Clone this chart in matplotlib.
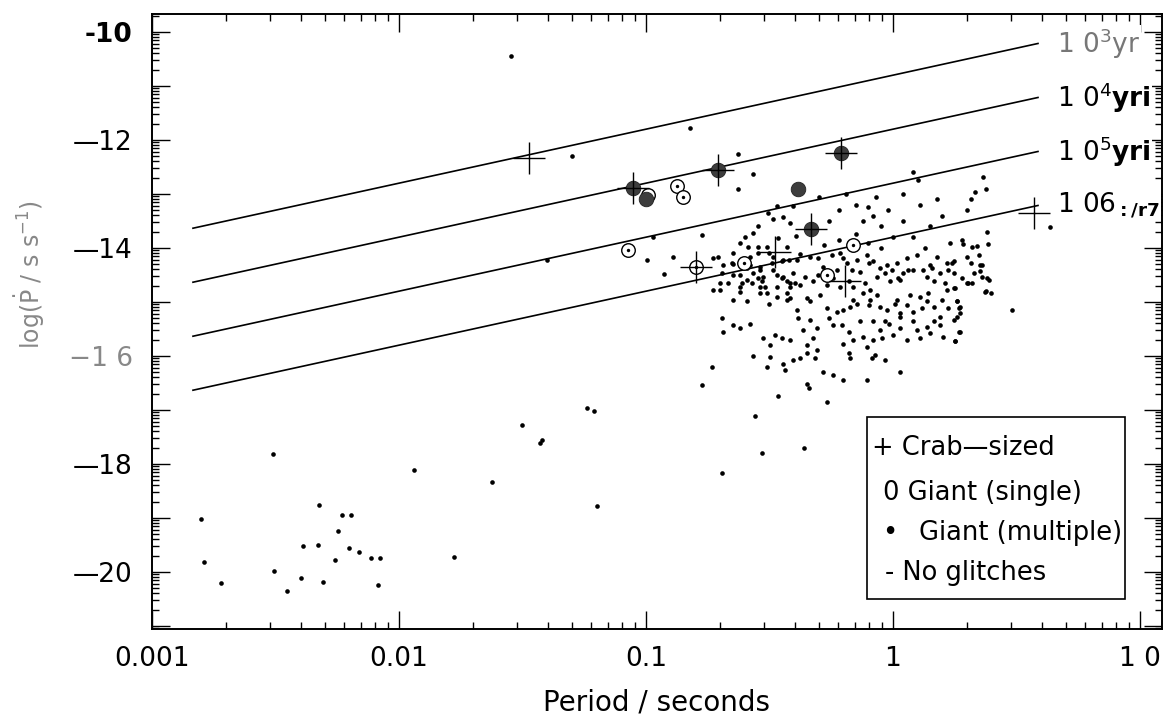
import numpy as np
import matplotlib.pyplot as plt
from matplotlib.patches import Rectangle
from matplotlib.ticker import FixedLocator, LogLocator, NullFormatter

# log10(P / s) and log10(Pdot)
dot_logp = [
    -2.802, -2.79, -2.72, -2.51, -2.506, -2.453, -2.397, -2.389, -2.324, -2.328,
    -2.308, -2.259, -2.247, -2.231, -2.194, -2.202, -2.162, -2.113, -2.077, -2.085,
    -1.939, -1.777, -1.623, -1.30, -0.822, -0.628, -0.567, -0.628, -1.40, -0.972,
    -0.996, -0.89, -0.927, -0.773, 0.636,
    -1.547, -1.50, -1.43, -1.42, -1.24, -1.21, -1.20,
    -0.727, -0.707, -0.646, -0.545, -0.491, -0.423, -0.376, -0.336, -0.248, -0.214,
    -0.147, -0.106, -0.079, -0.025, 0.015, 0.056, 0.096, 0.150, 0.177, 0.218,
    0.245, 0.299, 0.353, 0.380, 0.319,
    -0.700, -0.666, -0.612, -0.572, -0.545, -0.531, -0.518, -0.471, -0.450, -0.430,
    -0.417, -0.376, -0.356, -0.322, -0.302, -0.268, -0.241, -0.214, -0.180, -0.160,
    -0.133, -0.113, -0.093, -0.066, -0.032, -0.012, 0.029, 0.042, 0.083, 0.137,
    0.164, 0.191, 0.224, 0.251, 0.299, 0.373,
    -0.646, -0.592, -0.538, -0.504, -0.471, -0.430, -0.390, -0.349, -0.295, -0.268,
    -0.228, -0.201, -0.174, -0.147, -0.120, -0.093, -0.066, -0.025, 0.008, 0.029,
    0.056, 0.083, 0.110, 0.137, 0.164, 0.191, 0.218, 0.258, 0.272,
    -0.693, -0.687, -0.646, -0.619, -0.579, -0.525, -0.498, -0.477, -0.450, -0.417,
    -0.383, -0.363, -0.349, -0.322, -0.261, -0.207, -0.180, -0.133, -0.120, -0.079,
    -0.045, -0.032, 0.002, 0.029, 0.056, 0.083, 0.110, 0.137, 0.164, 0.191,
    0.251, 0.272,
    -0.565, -0.498, -0.511, -0.444, -0.437, -0.403, -0.376, -0.349, -0.315, -0.309,
    -0.282, -0.241, -0.201, -0.180, -0.174, -0.106, -0.086, -0.072, 0.029, -0.734,
    -0.774,
    -0.464, -0.349, -0.342, -0.268, -0.558, -0.531, -0.360, -0.693,
    0.363, 0.332, 0.314, 0.375, 0.379, 0.278, 0.285, 0.318, 0.341, 0.383,
    0.238, 0.314, 0.350, 0.362, 0.352, 0.359, 0.305, 0.390, 0.375, 0.397,
    0.247, 0.258, 0.269, 0.258, 0.269, 0.251, 0.480,
    -0.468, -0.403, -0.505, -0.484, -0.545, -0.599, -0.619, -0.586, -0.545, -0.511,
    -0.464, -0.430, -0.393, -0.653, -0.700, -0.646, -0.592, -0.565, -0.525, -0.484,
    -0.444, -0.417, -0.390, -0.538, -0.727, -0.619, -0.511, -0.430,
    -0.26, -0.22, -0.19, -0.15, -0.12, -0.10, -0.07, -0.05, -0.02, 0.00,
    -0.15, -0.22, -0.10, -0.05, 0.04, 0.08, 0.10, 0.11, 0.15, 0.18,
    0.20, 0.04, 0.08, 0.13, 0.23, 0.30, -0.30, -0.33, -0.28, -0.08,
    -0.417, -0.336, -0.302, -0.187, -0.167, -0.201, -0.099, -0.052, -0.005, 0.022,
    0.062, 0.123, 0.157, 0.211, 0.245, 0.278, 0.326, -0.396, -0.450, -0.538,
    -0.619, -0.579, -0.687, -0.471, -0.504, -0.282, -0.228, -0.160, -0.099, -0.052,
    0.015, 0.069, 0.116, 0.143, 0.197, 0.224, 0.245, 0.272, -0.336, -0.309,
    -0.241, -0.160, -0.106, -0.052, -0.018, 0.029, 0.096, 0.150, 0.204, -0.201,
    -0.079, -0.032, -0.444, -0.417, -0.565, -0.646, -0.579, -0.484, -0.444, -0.403,
    -0.592, -0.694, -0.619, -0.538,
]
dot_logpdot = [
    -19.02, -19.81, -20.20, -17.81, -19.98, -20.35, -20.11, -19.52, -18.76, -19.50,
    -20.19, -19.78, -19.24, -18.94, -18.94, -19.56, -19.63, -19.74, -19.74, -20.24,
    -18.11, -19.72, -18.33, -12.30, -11.78, -12.26, -12.63, -12.91, -14.22, -13.80,
    -14.22, -14.17, -14.48, -13.76, -13.61,
    -10.45, -17.28, -17.62, -17.55, -16.97, -17.02, -18.77,
    -14.19, -14.16, -14.30, -14.10, -14.27, -14.22, -14.11, -14.16, -14.13, -14.10,
    -14.22, -14.13, -14.25, -14.32, -14.28, -14.19, -14.13, -14.32, -14.16, -14.28,
    -14.25, -14.16, -14.32, -14.56, -14.65,
    -14.77, -14.65, -14.65, -14.65, -14.56, -14.62, -14.72, -14.72, -14.56, -14.62,
    -14.72, -14.69, -14.53, -14.62, -14.50, -14.69, -14.56, -14.72, -14.62, -14.72,
    -14.44, -14.65, -14.78, -14.53, -14.47, -14.62, -14.59, -14.47, -14.41, -14.53,
    -14.62, -14.47, -14.41, -14.75, -14.65, -14.81,
    -14.96, -14.99, -14.84, -15.03, -14.90, -14.96, -15.15, -14.93, -14.87, -15.12,
    -15.18, -15.15, -15.09, -15.03, -14.84, -14.96, -14.87, -15.15, -15.03, -15.21,
    -15.06, -15.18, -14.90, -14.99, -15.09, -15.27, -14.78, -14.99, -15.21,
    -15.30, -15.55, -15.43, -15.49, -15.40, -15.67, -15.80, -15.61, -15.67, -15.70,
    -15.30, -15.52, -15.80, -15.67, -15.30, -15.43, -15.55, -15.36, -15.64, -15.36,
    -15.67, -15.36, -15.61, -15.27, -15.70, -15.36, -15.67, -15.46, -15.36, -15.43,
    -15.73, -15.55,
    -16.00, -16.02, -16.21, -16.14, -16.26, -16.07, -16.04, -15.95, -16.04, -15.89,
    -16.29, -16.35, -16.44, -15.95, -16.04, -16.44, -16.04, -15.98, -16.30, -16.21,
    -16.54,
    -16.75, -16.51, -16.60, -16.85, -17.12, -17.79, -17.70, -18.16,
    -12.69, -12.97, -13.10, -12.90, -13.70, -13.85, -13.93, -13.99, -13.96, -13.93,
    -14.27, -14.28, -14.13, -14.31, -14.42, -14.54, -14.64, -14.59, -14.79, -14.84,
    -14.75, -14.99, -15.12, -15.27, -15.55, -15.73, -15.15,
    -13.22, -13.22, -13.36, -13.46, -13.59, -13.79, -13.90, -13.98, -13.98, -13.98,
    -13.82, -13.98, -13.78, -14.28, -14.65, -14.50, -14.59, -14.47, -14.53, -14.41,
    -14.53, -14.65, -14.22, -14.35, -14.78, -14.81, -14.84, -14.84,
    -13.50, -13.30, -13.00, -13.20, -13.50, -13.25, -13.05, -13.60, -13.30, -13.80,
    -13.75, -13.85, -13.90, -14.00, -13.00, -12.60, -12.75, -13.20, -13.60, -13.10,
    -13.40, -13.50, -13.80, -14.00, -13.90, -13.30, -13.05, -13.70, -13.95, -13.40,
    -14.93, -14.99, -14.19, -14.28, -14.41, -14.19, -14.28, -14.38, -14.41, -14.56,
    -14.41, -14.41, -14.38, -14.65, -14.47, -14.56, -14.47, -14.65, -14.25, -14.41,
    -14.50, -14.31, -14.31, -14.50, -14.10, -14.35, -14.41, -14.96, -15.06, -15.09,
    -14.96, -14.87, -15.12, -14.84, -14.96, -15.12, -15.33, -15.09, -15.33, -15.49,
    -15.43, -15.70, -15.83, -15.52, -15.40, -15.49, -15.52, -15.58, -15.64, -15.77,
    -15.70, -16.07, -13.42, -13.54, -13.73, -14.10, -14.16, -14.16, -14.22, -14.47,
    -14.38, -14.47, -14.72, -14.72,
]

crab_logp = [-1.474, -1.053, -0.709, -0.798, -0.478, -0.194, 0.571, -0.21, -0.33]
crab_logpdot = [-12.33, -12.89, -12.56, -14.35, -14.07, -14.61, -13.35, -12.25, -13.65]

single_logp = [-0.99, -0.874, -0.85, -1.073, -0.798, -0.603, -0.267, -0.16]
single_logpdot = [-13.02, -12.85, -13.06, -14.04, -14.35, -14.28, -14.50, -13.95]

multi_logp = [-1.053, -1.0, -0.709, -0.385, -0.21, -0.33]
multi_logpdot = [-12.89, -13.09, -12.56, -12.91, -12.25, -13.65]

ages_yr = [1e3, 1e4, 1e5, 1e6]
age_labels = [r'1 0$^3$yr', r'1 0$^4$$\mathbf{yri}$', r'1 0$^5$$\mathbf{yri}$',
              r'1 06$_{\mathbf{:/r7}}$']
age_colors = ['#777777', 'black', 'black', 'black']
line_p = [10 ** -2.834, 10 ** 0.587]

xticks = [1e-3, 1e-2, 1e-1, 1, 10]
xticklabels = ['0.001', '0.01', '0.1', '1', '1 0']
ymajor = [-21, -20, -19, -18, -17, -16, -15, -14, -13, -12, -11, -10]
ylabels_shown = {-10: '-10', -12: '—12', -14: '—14', -16: '−1 6', -18: '—18', -20: '—20'}

legend_lines = ['+ Crab—sized', '0 Giant (single)', '•', 'Giant (multiple)', '- No glitches']

plt.rcParams['mathtext.fontset'] = 'dejavusans'
fig = plt.figure(figsize=(11.69, 7.21), dpi=100)
ax = fig.add_axes([0.130, 0.1276, 0.864, 0.853])
ax.set_xscale('log')
ax.set_yscale('log')
ax.set_xlim(1e-3, 10 ** 1.089)
ax.set_ylim(10 ** -21.056, 10 ** -9.667)

yr = 3.156e7
for tau, lab, col in zip(ages_yr, age_labels, age_colors):
    pd = [p / (2 * tau * yr) for p in line_p]
    ax.plot(line_p, pd, color='black', lw=1.2, zorder=2)
    ax.text(10 ** 0.664, pd[1], lab, fontsize=19, color=col, ha='left', va='center',
            zorder=6, clip_on=False,
            bbox=dict(facecolor='white', edgecolor='none', pad=0.5))

px = lambda a: 10 ** np.array(a)
ax.scatter(px(dot_logp), px(dot_logpdot), s=11, color='black', zorder=3, linewidths=0)
ax.scatter(px(single_logp), px(single_logpdot), s=95, facecolors='white',
           edgecolors='black', linewidths=1.0, zorder=4)
ax.scatter(px(single_logp), px(single_logpdot), s=6, color='black', zorder=4, linewidths=0)
ax.scatter(px(multi_logp), px(multi_logpdot), s=110, color='#3d3d3d',
           edgecolors='#222222', linewidths=0.6, zorder=4)
ax.scatter(px(crab_logp), px(crab_logpdot), s=560, marker='+', color='black',
           linewidths=1.0, zorder=5)

ax.xaxis.set_major_locator(FixedLocator(xticks))
ax.set_xticklabels(xticklabels)
ax.xaxis.set_minor_locator(LogLocator(base=10, subs=np.arange(2, 10), numticks=20))
ax.xaxis.set_minor_formatter(NullFormatter())
ax.yaxis.set_major_locator(FixedLocator([10.0 ** k for k in ymajor]))
ax.set_yticklabels([ylabels_shown.get(k, '') for k in ymajor])
ax.yaxis.set_minor_locator(LogLocator(base=10, subs=np.arange(2, 10), numticks=30))
ax.yaxis.set_minor_formatter(NullFormatter())
for t in ax.get_yticklabels():
    if t.get_text() == '-10':
        t.set_fontweight('bold')
    if t.get_text() == '−1 6':
        t.set_color('#888888')

ax.tick_params(which='both', direction='in', top=True, right=True, width=1)
ax.tick_params(which='major', length=13)
ax.tick_params(which='minor', length=5)
ax.tick_params(axis='x', which='major', labelsize=19, pad=12)
ax.tick_params(axis='y', which='major', labelsize=19, pad=14)
for s in ax.spines.values():
    s.set_linewidth(1.4)

ax.set_xlabel('Period / seconds', fontsize=20, labelpad=12)
ax.set_ylabel(r'log($\dot{\rm P}$ / s s$^{-1}$)', fontsize=17, color='#888888')
ax.yaxis.set_label_coords(-0.104, 0.576)

ax.add_patch(Rectangle((0.708, 0.0488), 0.255, 0.296, transform=ax.transAxes,
                       facecolor='white', edgecolor='black', lw=1.2, zorder=6))
ax.text(0.713, 0.294, legend_lines[0], transform=ax.transAxes, fontsize=18.5, va='center', zorder=7)
ax.text(0.724, 0.221, legend_lines[1], transform=ax.transAxes, fontsize=18.5, va='center', zorder=7)
ax.text(0.723, 0.156, legend_lines[2], transform=ax.transAxes, fontsize=18.5, va='center', zorder=7)
ax.text(0.759, 0.156, legend_lines[3], transform=ax.transAxes, fontsize=18.5, va='center', zorder=7)
ax.text(0.726, 0.091, legend_lines[4], transform=ax.transAxes, fontsize=18.5, va='center', zorder=7)

fig.savefig('out.png', dpi=100)
